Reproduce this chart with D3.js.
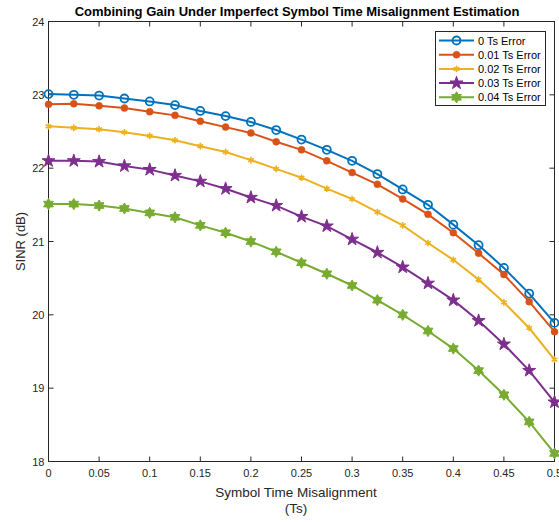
<!DOCTYPE html>
<html>
<head>
<meta charset="utf-8">
<script src="https://cdn.jsdelivr.net/npm/d3@7"></script>
<style>
  body { margin: 0; background: #fff; }
  svg text { font-family: "Liberation Sans", Arial, sans-serif; }
</style>
</head>
<body>
<div id="chart"></div>
<script>
// data
var xs = d3.range(21).map(function(i){ return i * 0.025; });
var names = ["0 Ts Error", "0.01 Ts Error", "0.02 Ts Error", "0.03 Ts Error", "0.04 Ts Error"];
var s0 = [23.01, 23.00, 22.99, 22.95, 22.91, 22.86, 22.78, 22.71, 22.63, 22.52, 22.39, 22.25, 22.10, 21.92, 21.71, 21.50, 21.23, 20.95, 20.64, 20.29, 19.89];
var s1 = [22.87, 22.88, 22.85, 22.82, 22.77, 22.72, 22.64, 22.56, 22.48, 22.36, 22.25, 22.10, 21.94, 21.78, 21.58, 21.37, 21.12, 20.84, 20.55, 20.18, 19.77];
var s2 = [22.57, 22.55, 22.53, 22.49, 22.44, 22.38, 22.30, 22.22, 22.11, 21.99, 21.87, 21.72, 21.58, 21.40, 21.22, 20.98, 20.75, 20.48, 20.17, 19.82, 19.39];
var s3 = [22.10, 22.10, 22.09, 22.03, 21.98, 21.90, 21.82, 21.72, 21.60, 21.49, 21.34, 21.21, 21.03, 20.85, 20.65, 20.43, 20.20, 19.92, 19.60, 19.24, 18.81];
var s4 = [21.51, 21.51, 21.49, 21.45, 21.39, 21.33, 21.22, 21.12, 21.00, 20.86, 20.71, 20.56, 20.40, 20.20, 20.00, 19.78, 19.54, 19.24, 18.91, 18.54, 18.11];
var xticks = [0, 0.05, 0.1, 0.15, 0.2, 0.25, 0.3, 0.35, 0.4, 0.45, 0.5];
var yticks = [18, 19, 20, 21, 22, 23, 24];

var colors = ["#0072BD", "#D95319", "#EDB120", "#7E2F8E", "#77AC30"];
var markers = ["circle", "dot", "asterisk", "pentagram", "hexagram"];
var series = [s0, s1, s2, s3, s4];

var W = 559, H = 522;
var mL = 48.5, mR = 554.5, mT = 21.5, mB = 461.5;

var svg = d3.select("#chart").append("svg").attr("width", W).attr("height", H);

var x = d3.scaleLinear().domain([0, 0.5]).range([mL, mR]);
var y = d3.scaleLinear().domain([18, 24]).range([mB, mT]);

// hexagram path
function hexagram(r) {
  var pts = [];
  for (var i = 0; i < 12; i++) {
    var a = -Math.PI / 2 + i * Math.PI / 6;
    var rr = i % 2 === 0 ? r : r * 0.577;
    pts.push([rr * Math.cos(a), rr * Math.sin(a)]);
  }
  return "M" + pts.map(function(p){ return p[0].toFixed(2) + "," + p[1].toFixed(2); }).join("L") + "Z";
}

function drawMarker(g, type, c) {
  if (type === "circle") {
    g.append("circle").attr("r", 4).attr("fill", "none").attr("stroke", c).attr("stroke-width", 1.8);
  } else if (type === "dot") {
    g.append("circle").attr("r", 3.5).attr("fill", c).attr("stroke", c).attr("stroke-width", 0.5);
  } else if (type === "asterisk") {
    g.append("path").attr("d", d3.symbol(d3.symbolAsterisk, 30)()).attr("fill", "none").attr("stroke", c).attr("stroke-width", 1.6);
  } else if (type === "pentagram") {
    g.append("path").attr("d", d3.symbol(d3.symbolStar, 52)()).attr("fill", c).attr("stroke", c).attr("stroke-width", 1);
  } else {
    g.append("path").attr("d", hexagram(5.6)).attr("fill", c).attr("stroke", c).attr("stroke-width", 1);
  }
}

// axes box
svg.append("rect").attr("x", mL).attr("y", mT).attr("width", mR - mL).attr("height", mB - mT)
  .attr("fill", "#fff").attr("stroke", "#262626").attr("stroke-width", 1);

// ticks inward
var tl = 5;
var tk = svg.append("g").attr("stroke", "#262626").attr("stroke-width", 1);
xticks.forEach(function(t){
  tk.append("line").attr("x1", x(t)).attr("x2", x(t)).attr("y1", mB).attr("y2", mB - tl);
  tk.append("line").attr("x1", x(t)).attr("x2", x(t)).attr("y1", mT).attr("y2", mT + tl);
});
yticks.forEach(function(t){
  tk.append("line").attr("x1", mL).attr("x2", mL + tl).attr("y1", y(t)).attr("y2", y(t));
  tk.append("line").attr("x1", mR).attr("x2", mR - tl).attr("y1", y(t)).attr("y2", y(t));
});

svg.append("g").selectAll("text").data(xticks).enter().append("text")
  .attr("x", function(d){ return x(d); }).attr("y", mB + 15)
  .attr("text-anchor", "middle").attr("font-size", 11).attr("fill", "#262626")
  .text(function(d){ return d3.format("")(d); });

svg.append("g").selectAll("text").data(yticks).enter().append("text")
  .attr("x", mL - 4).attr("y", function(d){ return y(d) + 4; })
  .attr("text-anchor", "end").attr("font-size", 11).attr("fill", "#262626")
  .text(function(d){ return d; });

// lines
var line = d3.line().x(function(d){ return x(d[0]); }).y(function(d){ return y(d[1]); });

series.forEach(function(s, i){
  var pts = d3.zip(xs, s);
  svg.append("path").attr("d", line(pts)).attr("fill", "none")
    .attr("stroke", colors[i]).attr("stroke-width", 2);
  pts.forEach(function(p){
    var g = svg.append("g").attr("transform", "translate(" + x(p[0]) + "," + y(p[1]) + ")");
    drawMarker(g, markers[i], colors[i]);
  });
});

// title + labels
svg.append("text").attr("x", 297).attr("y", 16).attr("text-anchor", "middle")
  .attr("font-size", 13).attr("font-weight", "bold").attr("fill", "#000")
  .text("Combining Gain Under Imperfect Symbol Time Misalignment Estimation");

svg.append("text").attr("x", 296).attr("y", 497).attr("text-anchor", "middle")
  .attr("font-size", 13.5).attr("fill", "#262626").text("Symbol Time Misalignment");
svg.append("text").attr("x", 296).attr("y", 513).attr("text-anchor", "middle")
  .attr("font-size", 13.5).attr("fill", "#262626").text("(Ts)");

svg.append("text").attr("transform", "translate(25," + ((mT + mB) / 2) + ") rotate(-90)")
  .attr("text-anchor", "middle").attr("font-size", 13).attr("fill", "#262626").text("SINR (dB)");

// legend
var lg = svg.append("g");
lg.append("rect").attr("x", 435.5).attr("y", 31.5).attr("width", 110).attr("height", 74)
  .attr("fill", "#fff").attr("stroke", "#262626").attr("stroke-width", 1);
names.forEach(function(n, i){
  var yy = 40.5 + i * 14.2;
  lg.append("line").attr("x1", 439).attr("x2", 474).attr("y1", yy).attr("y2", yy)
    .attr("stroke", colors[i]).attr("stroke-width", 2);
  var g = lg.append("g").attr("transform", "translate(456.5," + yy + ")");
  drawMarker(g, markers[i], colors[i]);
  lg.append("text").attr("x", 478).attr("y", yy + 4).attr("font-size", 11).attr("fill", "#000").text(n);
});
</script>
</body>
</html>
